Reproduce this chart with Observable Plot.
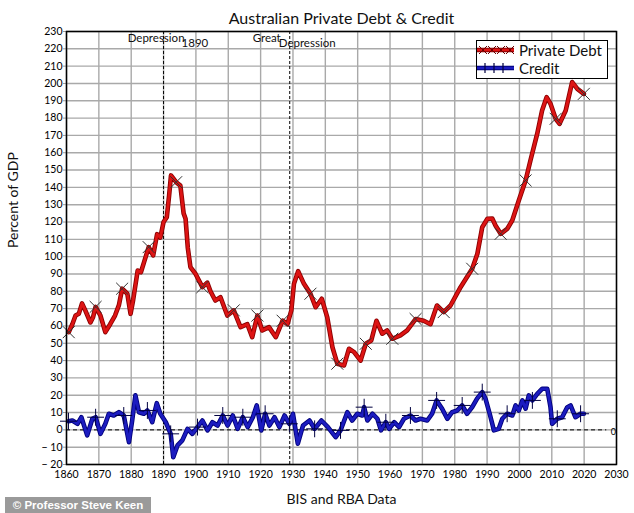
<!DOCTYPE html>
<html><head><meta charset="utf-8">
<script src="https://cdn.jsdelivr.net/npm/d3@7"></script>
<script src="https://cdn.jsdelivr.net/npm/@observablehq/plot@0.6"></script>
<style>
body{margin:0;background:#fff;}
#wrap{position:relative;width:634px;height:513px;font-family:Lato,"Open Sans",sans-serif;}
#legend{position:absolute;left:476px;top:40px;width:130px;height:37px;border:1px solid #000;background:#fff;font-family:Lato,sans-serif;font-size:15px;color:#111;}
#legend .row{position:absolute;left:0;height:18px;display:flex;align-items:center;}
#legend svg{display:block;}
#caption{position:absolute;left:5px;top:497px;width:146px;height:16px;background:#9a9a9a;color:#fff;font:bold 11.5px "Liberation Sans",Arial,sans-serif;line-height:16px;text-align:center;white-space:nowrap;}
</style></head><body><div id="wrap"></div>
<script>
// ---- data ----
const debtYears = [1860.7,1861.8,1862.8,1863.8,1864.8,1865.8,1867.4,1868.2,1869,1870.5,1872,1873.5,1875,1876.2,1877.2,1878.8,1879.8,1880.6,1882,1883,1884,1885.4,1886.8,1888,1889,1890,1891,1891.7,1892.3,1893.9,1895.2,1896.2,1896.8,1897.5,1898.3,1899.9,1902,1903.5,1904.5,1906,1907.6,1909.7,1911.7,1913.8,1915.9,1917.4,1919,1920.5,1922.6,1924.7,1926.8,1928.3,1929.5,1930.3,1931.6,1933.4,1935.4,1937,1938.9,1940.6,1942.2,1943.7,1945.8,1947.3,1948.9,1950.9,1952.5,1954.2,1955.8,1957.6,1959.1,1960.7,1963.2,1965.3,1967.9,1970.4,1972.5,1974.5,1976.6,1978.7,1981.8,1985.4,1987,1988.5,1990.1,1991.6,1992.6,1994.2,1996.2,1997.8,1999.8,2001.9,2003.4,2005.5,2007,2008.4,2009.6,2011.2,2012.4,2014.3,2016.3,2017.9,2019.9];
const debtValues = [56.4,61,66,67,73,69,62,65,71,66,56.4,61,66,72,81.5,78.6,67,75,92,91,97,105.5,100.7,113,111,120,122.8,135,146.9,143,141,125,121.9,105,94,90,82.4,85,80,74.7,76.6,66,69,59.3,61,53.5,66,57.4,59.3,53.5,63,61,69,84.3,91.6,84.3,78.6,70.8,75.7,65,47.7,38.2,37.2,46.8,44.9,40,49.7,51.6,63,55.5,57.4,52.6,54.5,57.4,64,63,61,71.8,68,71.8,82.4,93,101.7,117,121.9,122,118,113.2,116,121,132.4,144,155.5,171,184.4,192.1,188.3,179.6,176.7,184.4,200.8,196.9,194];
const creditYears = [1860.6,1861.8,1863.4,1864.6,1866.4,1868,1869,1870.5,1872,1873.1,1874.6,1876.2,1877.7,1879.3,1880.3,1881.3,1882.4,1883.9,1885,1886.5,1887.9,1889,1890.7,1892.2,1893,1894.3,1895.8,1897.4,1898.9,1900.5,1902,1903.6,1905.1,1906.7,1908.3,1909.8,1911.4,1912.9,1914.5,1916,1917.6,1918.8,1920.2,1921.4,1922.7,1924.3,1925.8,1927.4,1928.9,1930,1931.5,1933.1,1935.1,1936.7,1938.8,1940.8,1942.4,1943.2,1944.7,1946.8,1948.3,1949.9,1951.4,1952,1953,1954.6,1956.1,1957.2,1958.7,1959.7,1961.3,1962.8,1964.3,1966.3,1967.9,1969.4,1971.5,1973,1974.4,1976.1,1977.7,1979.2,1980.8,1982.3,1983.8,1985.4,1986.9,1988.5,1989.5,1990.8,1991.6,1992.1,1993.6,1994.7,1996.2,1997.8,1998.8,1999.8,2000.9,2001.9,2002.9,2004,2005.5,2007,2008.6,2009.6,2010.1,2011.7,2013.2,2014.8,2015.8,2017.3,2018.9,2019.9];
const creditValues = [5,5.4,3.5,7.3,-3.2,6.4,7.3,-2.3,3.5,9.3,8.3,10.2,8.3,-7.1,5.4,19.9,10.2,9.3,11.2,4.4,15.4,9.3,4.4,-2.3,-15.8,-9,-6.1,0.6,-2.3,1.6,5.4,-0.3,4.4,2.5,8.3,2.5,8.3,0.6,7.3,1.6,7.3,14.1,-0.3,9.3,2.5,7.3,1.6,8.3,3.5,9.3,-8,2.5,5.4,0.6,5.4,1.6,-2.3,-4.2,-0.3,10.2,5.4,9.3,8.3,13.1,5.4,9.3,6.4,-0.3,4.4,0.6,4.4,1.6,6.4,8.3,5.4,6.4,5.4,9.3,17,12.2,6.4,10.2,11.2,14.1,9.3,13.1,18,21.8,18,9.3,3.5,-0.3,0.6,6.4,9.3,8.3,14.1,11.2,17,12.2,19.9,17,20.8,23.7,23.7,13.1,3.5,6.4,7.3,13.1,14.1,7.3,9.3,9.3];
const debtMarkerYears = [1861,1869,1877,1886,1894,1902,1911,1919,1927,1936,1944,1952,1961,1969,1977,1986,1994,2002,2011,2019];
const creditMarkerYears = [1861,1869,1877,1885,1892,1900,1908,1915,1922,1929,1937,1944,1952,1959,1967,1974,1982,1989,1997,2004,2012,2019];
const xTicks = [1860,1870,1880,1890,1900,1910,1920,1930,1940,1950,1960,1970,1980,1990,2000,2010,2020,2030];
const yTicks = [-20,-10,0,10,20,30,40,50,60,70,80,90,100,110,120,130,140,150,160,170,180,190,200,210,220,230];
const eventYears = [1890, 1929];
const eventLabels = [["Depression", "1890"], ["Great", "Depression"]];
const titleText = "Australian Private Debt & Credit";
const yLabel = "Percent of GDP";
const xLabel = "BIS and RBA Data";
const seriesNames = ["Private Debt", "Credit"];
const captionText = "© Professor Steve Keen";

// ---- build ----
const debt = debtYears.map((y,i)=>({year:y, value:debtValues[i]}));
const credit = creditYears.map((y,i)=>({year:y, value:creditValues[i]}));
function nearest(rows, t){ return rows.reduce((a,b)=>Math.abs(b.year-t)<Math.abs(a.year-t)?b:a); }
const debtMarks = debtMarkerYears.map(t=>nearest(debt,t));
const creditMarks = creditMarkerYears.map(t=>nearest(credit,t));

// label offsets (pixels) relative to each event line
const labelOffsets = [
  [{anchor:"end", dx:21, dy:-12}, {anchor:"start", dx:18, dy:-7}],
  [{anchor:"end", dx:-9, dy:-12}, {anchor:"start", dx:-11, dy:-7}]
];
const annotationMarks = [];
eventYears.forEach((yr,i)=>{
  eventLabels[i].forEach((txt,j)=>{
    const o = labelOffsets[i][j];
    annotationMarks.push(Plot.text([txt],{x:()=>yr, frameAnchor:"top", text:d=>d, textAnchor:o.anchor, dx:o.dx, dy:o.dy+14, fontSize:11.5, fill:"#111"}));
  });
});

const chart = Plot.plot({
  width:634, height:513,
  marginLeft:66, marginRight:18, marginTop:31, marginBottom:49,
  style:{fontFamily:"Lato, 'Open Sans', sans-serif", fontSize:"10.5px", background:"#fff", color:"#000"},
  x:{domain:[1860,2030]},
  y:{domain:[-20,230]},
  marks:[
    Plot.gridX(xTicks,{stroke:"#a9a9a9", strokeOpacity:1, strokeWidth:1.4}),
    Plot.gridY(yTicks,{stroke:"#a9a9a9", strokeOpacity:1, strokeWidth:1.4}),
    Plot.axisX(xTicks,{tickSize:0, tickPadding:6, tickFormat:d=>String(d), label:null, fontSize:10.5}),
    Plot.axisY(yTicks,{tickSize:3, tickPadding:1, stroke:"#999", tickFormat:d=>d<0?"− "+Math.abs(d):String(d), label:null, fontSize:10.5}),
    Plot.ruleY([0],{x1:1860, x2:2027, stroke:"#000", strokeWidth:1, strokeDasharray:"4,3"}),
    Plot.text([0],{x:2029, y:d=>d, text:()=>"0", dy:2, fontSize:9}),
    Plot.ruleX(eventYears,{stroke:"#000", strokeWidth:1, strokeDasharray:"3,2"}),
    ...annotationMarks,
    Plot.line(debt,{x:"year", y:"value", stroke:"#8c0000", strokeWidth:4.6}),
    Plot.line(debt,{x:"year", y:"value", stroke:"#dd1414", strokeWidth:2.8}),
    Plot.dot(debtMarks,{x:"year", y:"value", symbol:"times", r:5.5, stroke:"#333", strokeWidth:1}),
    Plot.line(credit,{x:"year", y:"value", stroke:"#00007a", strokeWidth:4.6}),
    Plot.line(credit,{x:"year", y:"value", stroke:"#1c1cc0", strokeWidth:2.8}),
    Plot.dot(creditMarks,{x:"year", y:"value", symbol:"plus", r:5.5, stroke:"#000040", strokeWidth:1}),
    Plot.frame({stroke:"#000", strokeWidth:1.5}),
    Plot.text([titleText],{frameAnchor:"top", dy:-19, fontSize:16, fill:"#111"}),
    Plot.text([xLabel],{frameAnchor:"bottom", dy:39, fontSize:14, fill:"#111"}),
    Plot.text([yLabel],{frameAnchor:"left", dx:-53, rotate:-90, fontSize:14, fill:"#111"})
  ]
});
const wrap = document.getElementById("wrap");
wrap.appendChild(chart);

// legend
const legend = document.createElement("div");
legend.id = "legend";
const legendStyles = [
  {stroke:"#dd1414", edge:"#8c0000", symbol:"x", mark:"#6a0000"},
  {stroke:"#1c1cc0", edge:"#00007a", symbol:"+", mark:"#000040"}
];
seriesNames.forEach((name,i)=>{
  const s = legendStyles[i];
  const row = document.createElement("div");
  row.className = "row";
  row.style.top = (i===0 ? 0 : 18) + "px";
  let marks = "";
  [6,15,24,33].slice(0, i===0?4:3).forEach(cx=>{
    if (s.symbol==="x") marks += `<path d="M${cx-4},4 L${cx+4},12 M${cx-4},12 L${cx+4},4" stroke="${s.mark}" stroke-width="1"/>`;
    else marks += `<path d="M${cx+2},3 V13" stroke="${s.mark}" stroke-width="1.2"/>`;
  });
  row.innerHTML = `<svg width="38" height="16"><line x1="0" x2="37" y1="8" y2="8" stroke="${s.edge}" stroke-width="4.5"/><line x1="0" x2="37" y1="8" y2="8" stroke="${s.stroke}" stroke-width="2.6"/>${marks}</svg><span style="margin-left:4px">${name}</span>`;
  legend.appendChild(row);
});
wrap.appendChild(legend);

const cap = document.createElement("div");
cap.id = "caption";
cap.textContent = captionText;
wrap.appendChild(cap);
</script></body></html>
